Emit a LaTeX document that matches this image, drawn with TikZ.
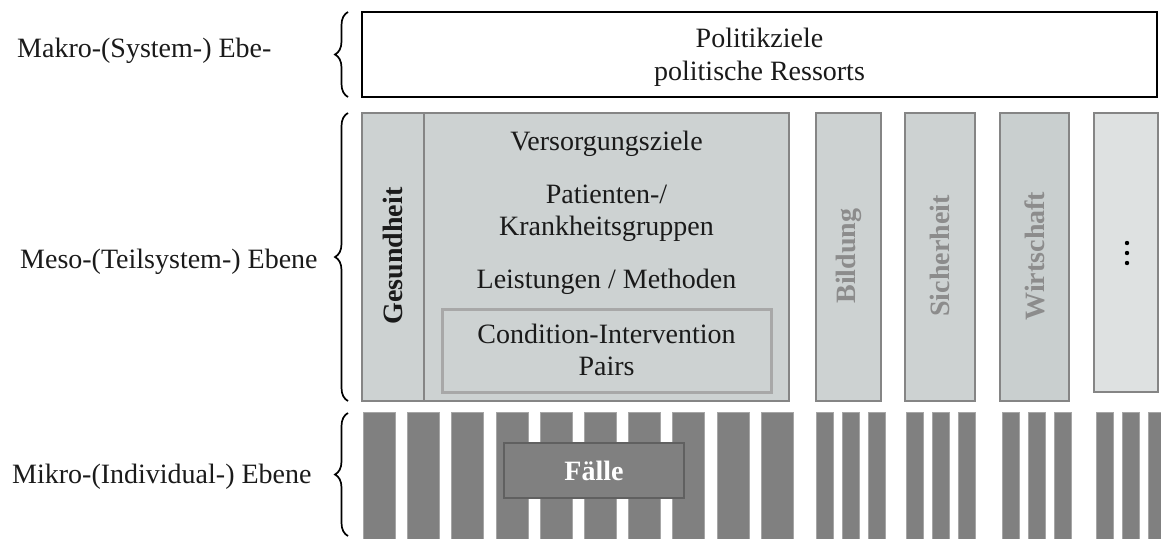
\documentclass[tikz,border=0pt]{standalone}
\usepackage{fontspec}
\setmainfont{Liberation Serif}
\usetikzlibrary{decorations.pathreplacing}
\definecolor{mesofill}{HTML}{CDD2D2}
\definecolor{mesofilldark}{HTML}{C9CFCF}
\definecolor{mesofilllight}{HTML}{DEE1E1}
\definecolor{mesoline}{HTML}{858585}
\definecolor{cipline}{HTML}{A8A8A8}
\definecolor{barfill}{HTML}{808080}
\definecolor{barline}{HTML}{A6A6A6}
\definecolor{faelleline}{HTML}{606060}
\definecolor{sectortext}{HTML}{8C8C8C}
\definecolor{txt}{HTML}{1A1A1A}
\tikzset{
  lbl/.style={font=\fontsize{28}{33}\selectfont, text=txt, inner sep=0pt},
  mesobox/.style={draw=mesoline, line width=1.4pt, fill=mesofill, inner sep=0pt},
  sectorlbl/.style={font=\fontsize{28}{33}\selectfont\bfseries, text=sectortext, rotate=90, inner sep=0pt},
  barbox/.style={draw=barline, line width=1pt, fill=barfill, inner sep=0pt, minimum height=130pt},
  levelbrace/.style={decorate, decoration={brace, amplitude=13pt}, line width=1.7pt, draw=black},
}
\begin{document}
\begin{tikzpicture}[x=1pt,y=-1pt]
\useasboundingbox (0,0) rectangle (1161,538);

% level labels
\node[lbl, anchor=base west] (lmakro) at (17,57) {Makro-(System-) Ebe-};
\node[lbl, anchor=base west] (lmeso) at (20,268) {Meso-(Teilsystem-) Ebene};
\node[lbl, anchor=base west] (lmikro) at (12,483) {Mikro-(Individual-) Ebene};

% braces
\coordinate (b1s) at (348,97);  \coordinate (b1e) at (348,12);
\coordinate (b2s) at (348,401); \coordinate (b2e) at (348,113);
\coordinate (b3s) at (348,536); \coordinate (b3e) at (348,413);
\draw[levelbrace] (b1s) -- (b1e);
\draw[levelbrace] (b2s) -- (b2e);
\draw[levelbrace] (b3s) -- (b3e);

% macro box
\node[draw=black, line width=1.8pt, minimum width=795pt, minimum height=85pt, inner sep=0pt] (makro) at (759.5,54.5) {};
\node[lbl, anchor=base] (pz) at (759.5,47) {Politikziele};
\node[lbl, anchor=base] (pr) at (759.5,80) {politische Ressorts};

% meso: Gesundheit
\node[mesobox, minimum width=62pt, minimum height=288pt] (gcol) at (393,257) {};
\node[mesobox, minimum width=365pt, minimum height=288pt] (gcont) at (606.5,257) {};
\node[lbl, font=\fontsize{28}{33}\selectfont\bfseries, rotate=90] (gtxt) at (393,256) {Gesundheit};
\node[lbl, anchor=base] (vz) at (606.5,150) {Versorgungsziele};
\node[lbl, anchor=base] (pk1) at (606.5,203) {Patienten-/};
\node[lbl, anchor=base] (pk2) at (606.5,235) {Krankheitsgruppen};
\node[lbl, anchor=base] (lm) at (606.5,288) {Leistungen / Methoden};
\node[draw=cipline, line width=3pt, fill=mesofill, minimum width=329pt, minimum height=83pt, inner sep=0pt] (cip) at (606.5,350.5) {};
\node[lbl, anchor=base] (cip1) at (606.5,343) {Condition-Intervention};
\node[lbl, anchor=base] (cip2) at (606.5,375) {Pairs};

% meso: other sectors
\node[mesobox, minimum width=65pt, minimum height=288pt] (bild) at (848.5,257) {};
\node[sectorlbl] (bildt) at (848.5,256) {Bildung};
\node[mesobox, minimum width=70pt, minimum height=288pt] (sich) at (940,257) {};
\node[sectorlbl] (sicht) at (940,256) {Sicherheit};
\node[mesobox, fill=mesofilldark, minimum width=69pt, minimum height=288pt] (wirt) at (1034.5,257) {};
\node[sectorlbl] (wirtt) at (1034.5,256) {Wirtschaft};
\node[mesobox, fill=mesofilllight, minimum width=64pt, minimum height=279pt] (more) at (1126,252.5) {};
\foreach \k/\yy in {1/243,2/253,3/263}
  \fill[black] (1127,\yy) circle (2.2pt) coordinate (dot\k);

% micro bars
\foreach \i in {0,...,9}
  \node[barbox, minimum width=32pt, anchor=north west] (gbar\i) at ({363+44.2*\i},412) {};
\foreach \g/\x in {b/816, s/906, w/1002, m/1096}
  \foreach \j in {0,1,2}
    \node[barbox, minimum width=17pt, anchor=north west] (\g bar\j) at ({\x+26*\j},412) {};

% Faelle
\node[draw=faelleline, line width=1.5pt, fill=barfill, minimum width=180pt, minimum height=55pt, inner sep=0pt] (faelle) at (594,470.5) {};
\node[lbl, anchor=base, text=white, font=\fontsize{28}{33}\selectfont\bfseries] (faellet) at (594,480) {Fälle};
\end{tikzpicture}
\end{document}
